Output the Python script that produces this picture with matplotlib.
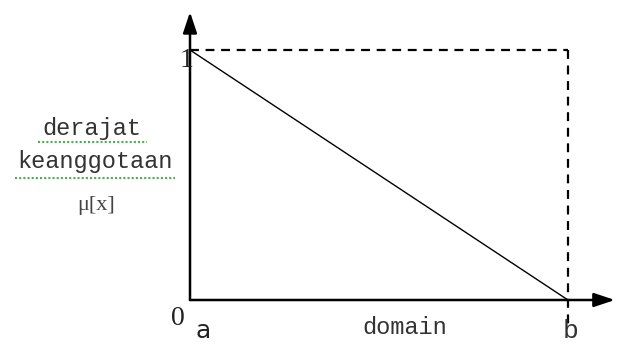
import matplotlib
matplotlib.use("Agg")
import matplotlib.pyplot as plt

# membership function (linear down) between a and b
domain_x = [0.0, 1.0]      # a, b
mu_values = [1.0, 0.0]
x_labels = ["a", "b"]
y_labels = ["0", "1"]
y_title = ["derajat", "keanggotaan"]
mu_label = "\u03bc[x]"
x_title = "domain"

W, H = 619, 345
fig = plt.figure(figsize=(W / 100, H / 100), dpi=100)
ax = fig.add_axes([0, 0, 1, 1])
# pixel layout: x=0 at 190 px, x=1 at 568 px; y=0 at 300 px, y=1 at 50 px
sx, sy = 378.0, 250.0
ax.set_xlim(-190 / sx, (W - 190) / sx)
ax.set_ylim(-(H - 300) / sy, 300 / sy)
ax.axis("off")

mono = "Liberation Mono"
serif = "Liberation Serif"

# axes with arrows
arrow = dict(arrowstyle="-|>,head_length=0.9,head_width=0.3", color="black",
             lw=1.8, mutation_scale=14, shrinkA=0, shrinkB=0)
ax.annotate("", xy=(0, 1.152), xytext=(0, 0), arrowprops=arrow)
ax.annotate("", xy=(1.124, 0), xytext=(0, 0), arrowprops=arrow)

# membership line
ax.plot(domain_x, mu_values, color="black", lw=1.0)

# dashed frame
ax.plot([domain_x[0], domain_x[1]], [mu_values[0], mu_values[0]],
        color="black", lw=1.6, ls=(0, (4, 3)))
ax.plot([domain_x[1], domain_x[1]], [mu_values[0], -0.1],
        color="black", lw=1.6, ls=(0, (4, 3)))

# labels
ax.text(-12 / sx, -0.075, y_labels[0], family=serif, fontsize=20,
        ha="center", va="center", color="#222222")
ax.text(-3 / sx, 1 - 11 / sy, y_labels[1], family=serif, fontsize=20,
        ha="center", va="center", color="#222222")
ax.text(domain_x[0] + 13 / sx, -0.125, x_labels[0], family="DejaVu Sans",
        fontsize=18, ha="center", va="center", color="#222222")
ax.text(domain_x[1] + 3 / sx, -0.125, x_labels[1], family=mono,
        fontsize=19, ha="center", va="center", color="#333333")
ax.text(215 / sx, -0.112, x_title, family=mono, fontsize=17,
        ha="center", va="center", color="#333333")

ax.text(-98 / sx, 172 / sy, y_title[0], family=mono, fontsize=17,
        ha="center", va="center", color="#333333")
ax.text(-95 / sx, 138 / sy, y_title[1], family=mono, fontsize=17,
        ha="center", va="center", color="#333333")
ax.text(-94 / sx, 94 / sy, mu_label, family=serif, fontsize=16,
        ha="center", va="center", color="#444444")

# green spell-check underlines
ax.plot([-152 / sx, -43 / sx], [158 / sy, 158 / sy], color="#4caf50",
        lw=1.5, ls=(0, (1, 1)))
ax.plot([-175 / sx, -15 / sx], [122 / sy, 122 / sy], color="#4caf50",
        lw=1.5, ls=(0, (1, 1)))

fig.savefig("out.png", dpi=100)
